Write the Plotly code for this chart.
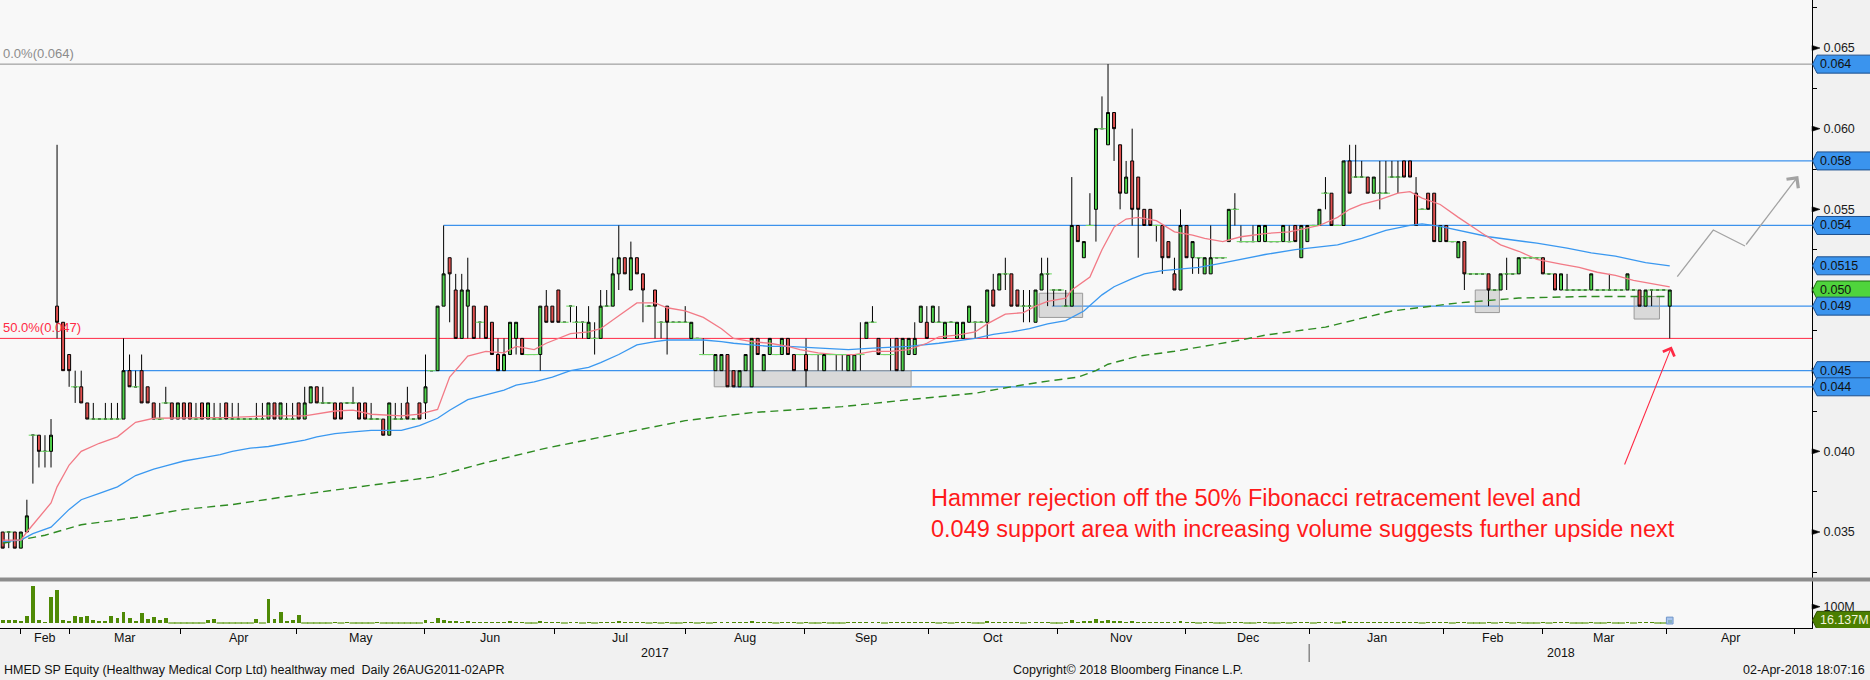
import plotly.graph_objects as go

# ---------------- data ----------------
# one daily bar per trading day, index 0 = late Jan 2017, index 276 = 02 Apr 2018
bar_idx = list(range(277))

open_ = [
    0.035, 0.035, 0.035, 0.034, 0.035, 0.041, 0.041, 0.040, 0.040, 0.049,
    0.048, 0.046, 0.044, 0.044, 0.043, 0.042, 0.042, 0.042, 0.042, 0.042,
    0.042, 0.045, 0.044, 0.045, 0.044, 0.043, 0.042, 0.043, 0.043, 0.042,
    0.043, 0.043, 0.042, 0.043, 0.042, 0.042, 0.042, 0.043, 0.042, 0.042,
    0.042, 0.042, 0.042, 0.042, 0.042, 0.043, 0.042, 0.042, 0.042, 0.043,
    0.042, 0.043, 0.044, 0.043, 0.043, 0.043, 0.043, 0.043, 0.043, 0.043,
    0.043, 0.042, 0.042, 0.042, 0.041, 0.042, 0.042, 0.043, 0.042, 0.043,
    0.043, 0.045, 0.045, 0.049, 0.052, 0.050, 0.047, 0.049, 0.049, 0.048,
    0.049, 0.048, 0.046, 0.045, 0.046, 0.047, 0.047, 0.046, 0.046, 0.046,
    0.049, 0.049, 0.050, 0.048, 0.049, 0.048, 0.048, 0.047, 0.047, 0.047,
    0.049, 0.049, 0.051, 0.052, 0.050, 0.052, 0.051, 0.049, 0.050, 0.048,
    0.049, 0.048, 0.048, 0.048, 0.047, 0.047, 0.046, 0.046, 0.045, 0.045,
    0.046, 0.045, 0.044, 0.045, 0.044, 0.047, 0.045, 0.046, 0.046, 0.046,
    0.047, 0.046, 0.046, 0.046, 0.046, 0.046, 0.045, 0.046, 0.046, 0.046,
    0.045, 0.045, 0.046, 0.047, 0.048, 0.047, 0.046, 0.046, 0.047, 0.045,
    0.046, 0.046, 0.048, 0.048, 0.048, 0.048, 0.047, 0.048, 0.047, 0.047,
    0.048, 0.048, 0.048, 0.048, 0.050, 0.050, 0.051, 0.051, 0.050, 0.049,
    0.049, 0.048, 0.050, 0.051, 0.050, 0.050, 0.049, 0.049, 0.054, 0.052,
    0.054, 0.055, 0.060, 0.059, 0.061, 0.059, 0.056, 0.058, 0.057, 0.055,
    0.055, 0.054, 0.054, 0.053, 0.051, 0.050, 0.054, 0.052, 0.052, 0.051,
    0.051, 0.052, 0.052, 0.053, 0.055, 0.053, 0.053, 0.053, 0.053, 0.053,
    0.053, 0.053, 0.053, 0.053, 0.054, 0.052, 0.053, 0.054, 0.054, 0.056,
    0.056, 0.054, 0.054, 0.058, 0.057, 0.057, 0.057, 0.056, 0.056, 0.056,
    0.057, 0.057, 0.058, 0.058, 0.056, 0.055, 0.056, 0.056, 0.053, 0.054,
    0.053, 0.052, 0.053, 0.051, 0.051, 0.051, 0.051, 0.050, 0.050, 0.051,
    0.051, 0.051, 0.052, 0.052, 0.052, 0.052, 0.051, 0.051, 0.050, 0.050,
    0.050, 0.050, 0.050, 0.050, 0.050, 0.050, 0.050, 0.050, 0.050, 0.050,
    0.050, 0.050, 0.049, 0.050, 0.050, 0.050, 0.049,
]
high = [
    0.035, 0.035, 0.035, 0.035, 0.037, 0.041, 0.041, 0.041, 0.042, 0.059,
    0.048, 0.046, 0.045, 0.045, 0.043, 0.043, 0.042, 0.043, 0.043, 0.043,
    0.047, 0.046, 0.045, 0.046, 0.044, 0.043, 0.043, 0.044, 0.043, 0.043,
    0.043, 0.043, 0.043, 0.043, 0.043, 0.043, 0.043, 0.043, 0.043, 0.043,
    0.042, 0.042, 0.043, 0.043, 0.043, 0.043, 0.043, 0.043, 0.043, 0.043,
    0.044, 0.044, 0.044, 0.044, 0.043, 0.043, 0.043, 0.043, 0.044, 0.043,
    0.043, 0.043, 0.042, 0.042, 0.043, 0.043, 0.043, 0.044, 0.042, 0.043,
    0.046, 0.045, 0.049, 0.054, 0.052, 0.051, 0.051, 0.052, 0.049, 0.048,
    0.049, 0.048, 0.047, 0.047, 0.048, 0.048, 0.047, 0.046, 0.046, 0.049,
    0.050, 0.049, 0.050, 0.048, 0.049, 0.049, 0.048, 0.049, 0.048, 0.050,
    0.050, 0.052, 0.054, 0.052, 0.053, 0.052, 0.051, 0.049, 0.050, 0.048,
    0.049, 0.048, 0.048, 0.049, 0.048, 0.047, 0.047, 0.046, 0.046, 0.046,
    0.046, 0.045, 0.045, 0.046, 0.047, 0.047, 0.046, 0.047, 0.046, 0.047,
    0.047, 0.046, 0.046, 0.047, 0.046, 0.046, 0.046, 0.046, 0.046, 0.046,
    0.046, 0.046, 0.048, 0.048, 0.049, 0.047, 0.046, 0.047, 0.047, 0.047,
    0.047, 0.048, 0.049, 0.049, 0.049, 0.049, 0.048, 0.048, 0.048, 0.048,
    0.049, 0.048, 0.048, 0.050, 0.051, 0.051, 0.052, 0.051, 0.050, 0.050,
    0.050, 0.050, 0.052, 0.052, 0.050, 0.050, 0.050, 0.057, 0.054, 0.053,
    0.056, 0.060, 0.062, 0.064, 0.061, 0.059, 0.058, 0.060, 0.057, 0.055,
    0.055, 0.054, 0.054, 0.053, 0.052, 0.055, 0.054, 0.053, 0.052, 0.052,
    0.054, 0.052, 0.052, 0.055, 0.056, 0.054, 0.053, 0.054, 0.054, 0.054,
    0.053, 0.053, 0.054, 0.054, 0.054, 0.054, 0.054, 0.054, 0.055, 0.057,
    0.056, 0.054, 0.058, 0.059, 0.059, 0.058, 0.057, 0.057, 0.058, 0.058,
    0.058, 0.058, 0.058, 0.058, 0.057, 0.055, 0.056, 0.056, 0.054, 0.054,
    0.053, 0.053, 0.053, 0.051, 0.051, 0.051, 0.051, 0.050, 0.051, 0.052,
    0.051, 0.052, 0.052, 0.052, 0.052, 0.052, 0.051, 0.051, 0.051, 0.051,
    0.050, 0.050, 0.050, 0.051, 0.050, 0.050, 0.051, 0.050, 0.050, 0.051,
    0.050, 0.050, 0.050, 0.050, 0.050, 0.050, 0.050,
]
low = [
    0.034, 0.034, 0.034, 0.034, 0.035, 0.038, 0.039, 0.039, 0.039, 0.047,
    0.045, 0.044, 0.043, 0.043, 0.042, 0.042, 0.042, 0.042, 0.042, 0.042,
    0.042, 0.044, 0.044, 0.043, 0.043, 0.042, 0.042, 0.043, 0.042, 0.042,
    0.042, 0.042, 0.042, 0.042, 0.042, 0.042, 0.042, 0.042, 0.042, 0.042,
    0.042, 0.042, 0.042, 0.042, 0.042, 0.042, 0.042, 0.042, 0.042, 0.042,
    0.042, 0.043, 0.043, 0.043, 0.043, 0.042, 0.042, 0.043, 0.043, 0.042,
    0.042, 0.042, 0.042, 0.041, 0.041, 0.042, 0.042, 0.042, 0.042, 0.042,
    0.042, 0.045, 0.045, 0.049, 0.048, 0.047, 0.047, 0.047, 0.047, 0.047,
    0.047, 0.046, 0.045, 0.045, 0.046, 0.046, 0.046, 0.046, 0.046, 0.045,
    0.048, 0.048, 0.048, 0.048, 0.048, 0.047, 0.047, 0.047, 0.046, 0.047,
    0.049, 0.049, 0.050, 0.051, 0.050, 0.051, 0.048, 0.049, 0.047, 0.047,
    0.046, 0.048, 0.048, 0.048, 0.047, 0.047, 0.046, 0.046, 0.045, 0.045,
    0.044, 0.044, 0.044, 0.045, 0.044, 0.046, 0.045, 0.046, 0.046, 0.046,
    0.046, 0.045, 0.046, 0.044, 0.046, 0.045, 0.045, 0.046, 0.045, 0.045,
    0.045, 0.045, 0.045, 0.047, 0.048, 0.046, 0.046, 0.045, 0.045, 0.045,
    0.046, 0.046, 0.048, 0.047, 0.048, 0.048, 0.047, 0.048, 0.047, 0.047,
    0.048, 0.047, 0.048, 0.047, 0.049, 0.050, 0.050, 0.049, 0.049, 0.048,
    0.048, 0.048, 0.050, 0.049, 0.049, 0.050, 0.049, 0.049, 0.053, 0.052,
    0.054, 0.053, 0.060, 0.059, 0.058, 0.055, 0.056, 0.054, 0.052, 0.054,
    0.054, 0.053, 0.051, 0.052, 0.050, 0.050, 0.052, 0.051, 0.051, 0.051,
    0.051, 0.052, 0.052, 0.053, 0.054, 0.053, 0.053, 0.053, 0.053, 0.053,
    0.053, 0.053, 0.053, 0.053, 0.053, 0.052, 0.053, 0.054, 0.054, 0.055,
    0.054, 0.054, 0.054, 0.056, 0.057, 0.057, 0.056, 0.056, 0.055, 0.056,
    0.057, 0.056, 0.057, 0.057, 0.054, 0.055, 0.055, 0.053, 0.053, 0.053,
    0.053, 0.052, 0.050, 0.051, 0.051, 0.051, 0.049, 0.050, 0.050, 0.050,
    0.051, 0.051, 0.052, 0.052, 0.052, 0.051, 0.051, 0.050, 0.050, 0.050,
    0.050, 0.050, 0.050, 0.050, 0.050, 0.050, 0.050, 0.050, 0.050, 0.050,
    0.050, 0.049, 0.049, 0.049, 0.050, 0.050, 0.047,
]
close = [
    0.034, 0.035, 0.034, 0.035, 0.036, 0.041, 0.040, 0.040, 0.041, 0.048,
    0.045, 0.045, 0.044, 0.043, 0.042, 0.042, 0.042, 0.042, 0.042, 0.042,
    0.045, 0.044, 0.044, 0.043, 0.043, 0.042, 0.042, 0.043, 0.042, 0.043,
    0.042, 0.042, 0.042, 0.042, 0.043, 0.042, 0.042, 0.042, 0.042, 0.042,
    0.042, 0.042, 0.042, 0.042, 0.043, 0.042, 0.043, 0.042, 0.042, 0.042,
    0.043, 0.044, 0.043, 0.043, 0.043, 0.042, 0.042, 0.043, 0.043, 0.042,
    0.042, 0.042, 0.042, 0.041, 0.043, 0.042, 0.042, 0.042, 0.042, 0.042,
    0.044, 0.045, 0.049, 0.051, 0.051, 0.047, 0.050, 0.050, 0.047, 0.048,
    0.047, 0.046, 0.045, 0.046, 0.048, 0.048, 0.046, 0.046, 0.046, 0.049,
    0.048, 0.048, 0.048, 0.048, 0.049, 0.048, 0.048, 0.048, 0.047, 0.049,
    0.049, 0.051, 0.052, 0.051, 0.052, 0.051, 0.050, 0.049, 0.049, 0.048,
    0.048, 0.048, 0.048, 0.048, 0.048, 0.047, 0.046, 0.046, 0.046, 0.046,
    0.044, 0.044, 0.045, 0.046, 0.047, 0.046, 0.046, 0.047, 0.046, 0.047,
    0.046, 0.045, 0.046, 0.045, 0.046, 0.046, 0.046, 0.046, 0.046, 0.046,
    0.046, 0.046, 0.046, 0.048, 0.048, 0.046, 0.046, 0.046, 0.045, 0.047,
    0.047, 0.047, 0.049, 0.047, 0.049, 0.048, 0.048, 0.048, 0.048, 0.048,
    0.049, 0.048, 0.048, 0.050, 0.049, 0.051, 0.051, 0.049, 0.049, 0.049,
    0.049, 0.050, 0.051, 0.051, 0.050, 0.050, 0.049, 0.054, 0.053, 0.053,
    0.054, 0.060, 0.060, 0.061, 0.060, 0.056, 0.057, 0.055, 0.055, 0.054,
    0.054, 0.054, 0.052, 0.052, 0.050, 0.054, 0.052, 0.053, 0.052, 0.052,
    0.052, 0.052, 0.052, 0.055, 0.055, 0.053, 0.053, 0.053, 0.054, 0.054,
    0.053, 0.053, 0.054, 0.053, 0.053, 0.054, 0.054, 0.054, 0.055, 0.056,
    0.054, 0.054, 0.058, 0.056, 0.057, 0.057, 0.056, 0.057, 0.056, 0.056,
    0.057, 0.057, 0.057, 0.057, 0.054, 0.055, 0.055, 0.053, 0.054, 0.053,
    0.053, 0.053, 0.051, 0.051, 0.051, 0.051, 0.050, 0.050, 0.051, 0.051,
    0.051, 0.052, 0.052, 0.052, 0.052, 0.051, 0.051, 0.050, 0.051, 0.050,
    0.050, 0.050, 0.050, 0.051, 0.050, 0.050, 0.050, 0.050, 0.050, 0.051,
    0.050, 0.049, 0.050, 0.050, 0.050, 0.050, 0.050,
]
# daily volume, millions of shares
volume_m = [
    16, 16, 16, 10, 41, 225, 16, 8, 160, 205,
    16, 12, 41, 37, 41, 16, 10, 10, 41, 30,
    65, 30, 12, 60, 25, 35, 16, 30, 0, 0,
    0, 0, 0, 0, 16, 25, 0, 0, 0, 0,
    0, 0, 25, 0, 150, 25, 65, 12, 16, 47,
    0, 0, 0, 0, 0, 8, 0, 8, 0, 0,
    0, 0, 8, 0, 0, 0, 0, 0, 0, 0,
    16, 8, 30, 20, 15, 10, 8, 10, 8, 5,
    8, 5, 5, 8, 10, 8, 5, 0, 0, 12,
    8, 5, 5, 0, 5, 5, 0, 5, 0, 8,
    5, 8, 10, 5, 8, 5, 5, 0, 5, 0,
    5, 0, 0, 5, 5, 0, 5, 0, 5, 5,
    8, 8, 5, 8, 10, 5, 5, 5, 0, 5,
    5, 5, 0, 8, 0, 0, 5, 0, 0, 0,
    5, 5, 5, 8, 5, 5, 0, 5, 5, 5,
    5, 5, 8, 5, 5, 0, 5, 0, 5, 5,
    8, 0, 0, 10, 8, 8, 5, 5, 5, 0,
    5, 8, 5, 5, 0, 0, 5, 20, 8, 10,
    10, 25, 15, 20, 15, 12, 8, 10, 8, 5,
    5, 5, 8, 5, 8, 10, 5, 5, 0, 5,
    5, 0, 0, 8, 5, 5, 0, 0, 5, 5,
    0, 0, 5, 0, 5, 5, 5, 0, 5, 5,
    5, 0, 10, 8, 5, 5, 5, 5, 5, 5,
    5, 5, 5, 5, 5, 0, 5, 8, 5, 5,
    0, 5, 5, 0, 0, 0, 5, 0, 5, 5,
    0, 5, 0, 0, 0, 5, 0, 5, 5, 5,
    0, 0, 0, 5, 0, 0, 5, 0, 0, 5,
    0, 5, 5, 5, 0, 0, 16,
]

# moving averages: (bar index, value)
ma_fast_idx = [0, 3, 4, 6, 8, 9, 11, 13, 16, 19, 22, 25, 33, 38, 44, 50, 55, 58, 61, 66,
               69, 72, 74, 77, 80, 83, 85, 88, 90, 94, 97, 99, 102, 105, 108, 110, 113, 116, 119, 121,
               124, 127, 130, 132, 135, 138, 141, 144, 147, 150, 153, 155, 158, 161, 163, 166, 169, 171, 173, 176,
               177, 180, 182, 184, 186, 188, 191, 194, 197, 199, 202, 205, 209, 213, 218, 221, 223, 225, 228, 231,
               233, 235, 238, 241, 245, 248, 251, 254, 258, 261, 264, 267, 270, 276]
ma_fast = [0.0345, 0.0345, 0.0350, 0.0359, 0.0368, 0.0378, 0.03915, 0.0400, 0.0405, 0.0409,
           0.0418, 0.04205, 0.0421, 0.0421, 0.0422, 0.0422, 0.0425, 0.04255, 0.0423, 0.0422,
           0.0423, 0.0426, 0.0446, 0.0459, 0.0462, 0.0461, 0.0465, 0.0463, 0.0467, 0.0473,
           0.0474, 0.0476, 0.0484, 0.0492, 0.0492, 0.0489, 0.0487, 0.0483, 0.0476, 0.0470,
           0.0468, 0.0467, 0.0465, 0.0463, 0.0461, 0.0460, 0.0460, 0.0462, 0.0462, 0.0463,
           0.0467, 0.0471, 0.0472, 0.0474, 0.0479, 0.0485, 0.0486, 0.0490, 0.0493, 0.0495,
           0.0500, 0.0508, 0.0525, 0.0539, 0.0544, 0.0545, 0.0543, 0.0536, 0.0534, 0.0532,
           0.0530, 0.0533, 0.0535, 0.0536, 0.0540, 0.0545, 0.0550, 0.0553, 0.0556, 0.0560,
           0.0561, 0.0557, 0.0553, 0.0545, 0.0535, 0.0528, 0.0524, 0.0519, 0.0516, 0.0514,
           0.0511, 0.0509, 0.0506, 0.0502]
ma_mid_idx = [0, 3, 5, 8, 11, 13, 16, 19, 22, 25, 27, 30, 33, 36, 38, 41, 44, 47, 50, 52,
              55, 58, 61, 66, 69, 72, 74, 77, 80, 83, 85, 88, 91, 94, 97, 99, 102, 105, 108, 110,
              113, 116, 119, 121, 124, 127, 130, 135, 140, 144, 150, 155, 161, 164, 167, 170, 173, 176, 179, 182,
              184, 187, 189, 192, 195, 198, 201, 205, 209, 214, 221, 225, 229, 233, 235, 238, 241, 246, 250, 254,
              259, 263, 267, 272, 276]
ma_mid = [0.0344, 0.0345, 0.0349, 0.0353, 0.0364, 0.0370, 0.0374, 0.0378, 0.0385, 0.0389,
          0.0391, 0.0394, 0.0396, 0.0398, 0.0400, 0.0402, 0.0403, 0.0405, 0.0407, 0.0409,
          0.0411, 0.0412, 0.0413, 0.0413, 0.0416, 0.04205, 0.04255, 0.0432, 0.0435, 0.0438,
          0.0441, 0.0443, 0.0446, 0.0450, 0.0452, 0.0455, 0.0460, 0.0466, 0.0468, 0.0469,
          0.0469, 0.0469, 0.0468, 0.0467, 0.0466, 0.0465, 0.0465, 0.0464, 0.0463, 0.0464,
          0.0465, 0.0467, 0.0470, 0.04725, 0.0474, 0.0476, 0.0479, 0.0481, 0.0487, 0.0497,
          0.0502, 0.0507, 0.0510, 0.0512, 0.0513, 0.0514, 0.0516, 0.0519, 0.0522, 0.0525,
          0.0528, 0.0532, 0.0537, 0.0540, 0.0541, 0.05395, 0.0537, 0.0533, 0.0531, 0.0529,
          0.0526, 0.0523, 0.0521, 0.0517, 0.0515]
ma_slow_idx = [0, 3, 7, 13, 22, 30, 38, 47, 55, 63, 71, 80, 90, 98, 106, 113, 124, 139, 150, 161,
               167, 172, 178, 181, 183, 188, 194, 199, 205, 209, 219, 230, 241, 251, 262, 276]
ma_slow = [0.0343, 0.0345, 0.0348, 0.03545, 0.0359, 0.0364, 0.0367, 0.0372, 0.0376, 0.0380,
           0.0384, 0.0393, 0.0402, 0.0408, 0.0414, 0.0419, 0.0424, 0.04277, 0.0432, 0.0436,
           0.0440, 0.0443, 0.0446, 0.0450, 0.0454, 0.0459, 0.0462, 0.0465, 0.0469, 0.0472,
           0.0477, 0.0487, 0.0492, 0.0495, 0.0496, 0.0496]

# month boundaries on the bar-index axis, and month names between them
month_tick_idx = [3.0, 11.1, 29.5, 48.7, 69.9, 91.4, 113.1, 132.8, 153.2, 174.7, 195.9,
                  216.3, 238.6, 254.9, 275.4, 296.7]
month_names = ["Feb", "Mar", "Apr", "May", "Jun", "Jul", "Aug", "Sep", "Oct", "Nov", "Dec",
               "Jan", "Feb", "Mar", "Apr"]
year_names = ["2017", "2018"]

# Fibonacci retracement levels
fib_levels = [0.064, 0.047]
fib_labels = ["0.0%(0.064)", "50.0%(0.047)"]
fib_colors = ["#8c8c8c", "#ff2a45"]

# support / resistance lines (price, first bar)
sr_levels = [0.058, 0.054, 0.049, 0.045, 0.044]
sr_start_idx = [222, 73, 173.7, 20.2, 120.9]

# shaded zones (bar range, price range)
zone_x0 = [117.8, 171.6, 243.8, 270.1]
zone_x1 = [150.4, 178.8, 247.8, 274.3]
zone_lo = [0.0440, 0.0483, 0.0486, 0.0482]
zone_hi = [0.0450, 0.0498, 0.0500, 0.0496]

# right-axis value tags
tag_values = [0.064, 0.058, 0.054, 0.0515, 0.050, 0.049, 0.045, 0.044]
tag_texts = ["0.064", "0.058", "0.054", "0.0515", "0.050", "0.049", "0.045", "0.044"]
tag_kind = ["line", "line", "line", "ma", "last", "line", "line", "line"]
last_volume = 16.137

price_ticks = [0.035, 0.040, 0.045, 0.050, 0.055, 0.060, 0.065]
volume_ticks = [100]

note_lines = ["Hammer rejection off the 50% Fibonacci retracement level and",
              "0.049 support area with increasing volume suggests further upside next"]

# ---------------- geometry (pixels of the 1870x680 page) ----------------
FIG_W, FIG_H = 1870, 680
PW, PH = 1812, 628          # plot area (left/top at 0)
SPLIT = 579                 # price / volume boundary
PRICE_PX = 484 / 0.030      # px per price unit
P_REF, P_REF_PX = 0.065, 48
VOL_PX = 16.3 / 100         # px per million shares
VOL_ZERO_PX = 623
BAR_PX, BAR0_PX = 6.04, 2.7


def price_at(px):
    return P_REF - (px - P_REF_PX) / PRICE_PX


def xp(px):      # page px -> paper x
    return px / PW


def yp(px):      # page px -> paper y
    return (PH - px) / PH


X0 = -BAR0_PX / BAR_PX
X1 = (PW - BAR0_PX) / BAR_PX
p_top, p_bot = price_at(0), price_at(SPLIT)
v_top = (VOL_ZERO_PX - SPLIT) / VOL_PX
v_bot = (VOL_ZERO_PX - PH) / VOL_PX
PU = 1 / PRICE_PX            # price units per px
VU = 1 / VOL_PX

FONT = "Liberation Sans, Arial, sans-serif"
GREEN_BODY = "#4fd14a"
RED_BODY = "#e0504f"
FLAT_GREEN = "#74d86a"
BLUE = "#3c92ec"

fig = go.Figure()

# moving averages
fig.add_trace(go.Scatter(x=ma_slow_idx, y=ma_slow, mode="lines", yaxis="y",
                         line=dict(color="#2e8b22", width=1.4, dash="8px,5px"),
                         hoverinfo="skip", showlegend=False))
fig.add_trace(go.Scatter(x=ma_mid_idx, y=ma_mid, mode="lines", yaxis="y",
                         line=dict(color="#3a98f0", width=1.3),
                         hoverinfo="skip", showlegend=False))
fig.add_trace(go.Scatter(x=ma_fast_idx, y=ma_fast, mode="lines", yaxis="y",
                         line=dict(color="#f27a86", width=1.3),
                         hoverinfo="skip", showlegend=False))

# candles
fig.add_trace(go.Candlestick(
    x=bar_idx, open=open_, high=high, low=low, close=close, yaxis="y",
    increasing=dict(line=dict(color="black", width=1), fillcolor=GREEN_BODY),
    decreasing=dict(line=dict(color="black", width=1), fillcolor=RED_BODY),
    whiskerwidth=0, hoverinfo="skip", showlegend=False))

# unchanged-price days drawn as green dashes
flat_x = [i for i in bar_idx if open_[i] == close[i]]
flat_y = [close[i] for i in flat_x]
fig.add_trace(go.Scatter(x=flat_x, y=flat_y, mode="markers", yaxis="y",
                         marker=dict(symbol="line-ew", size=6,
                                     line=dict(color=FLAT_GREEN, width=1.1)),
                         hoverinfo="skip", showlegend=False))

# volume
fig.add_trace(go.Bar(x=bar_idx, y=volume_m, yaxis="y2", width=0.65,
                     marker=dict(color="#4f8a06", line=dict(width=0)),
                     hoverinfo="skip", showlegend=False))
zero_x = [i for i in bar_idx if volume_m[i] == 0]
fig.add_trace(go.Scatter(x=zero_x, y=[0] * len(zero_x), mode="markers", yaxis="y2",
                         marker=dict(symbol="line-ew", size=5,
                                     line=dict(color="#5a9a10", width=1.2)),
                         hoverinfo="skip", showlegend=False))

shapes = []
annotations = []

# fib lines + labels
for lv, lab, col in zip(fib_levels, fib_labels, fib_colors):
    shapes.append(dict(type="line", xref="x", yref="y", x0=X0, x1=X1, y0=lv, y1=lv,
                       line=dict(color=col, width=1), layer="below"))
    annotations.append(dict(x=xp(1), y=lv + 1.5 * PU, xref="paper", yref="y", text=lab,
                            showarrow=False, xanchor="left", yanchor="bottom",
                            font=dict(family=FONT, size=13, color=col)))

# support / resistance
for lv, st in zip(sr_levels, sr_start_idx):
    shapes.append(dict(type="line", xref="x", yref="y", x0=st, x1=X1, y0=lv, y1=lv,
                       line=dict(color=BLUE, width=1.2), layer="below"))

# zones
for a, b, lo, hi in zip(zone_x0, zone_x1, zone_lo, zone_hi):
    shapes.append(dict(type="rect", xref="x", yref="y", x0=a, x1=b, y0=lo, y1=hi,
                       fillcolor="rgba(165,165,165,0.38)",
                       line=dict(color="#9a9a9a", width=1), layer="below"))

# separator between panels
shapes.append(dict(type="rect", xref="paper", yref="paper", x0=0, x1=xp(FIG_W),
                   y0=yp(581.5), y1=yp(577.5), fillcolor="#8d8d8d", line=dict(width=0)))

# tick triangles
for v in price_ticks:
    shapes.append(dict(type="path", xref="paper", yref="y",
                       path=f"M 1,{v + 2.6 * PU} L {xp(PW + 8)},{v} L 1,{v - 2.6 * PU} Z",
                       fillcolor="black", line=dict(color="black", width=0.5)))
for v in volume_ticks:
    shapes.append(dict(type="path", xref="paper", yref="y2",
                       path=f"M 1,{v + 2.6 * VU} L {xp(PW + 8)},{v} L 1,{v - 2.6 * VU} Z",
                       fillcolor="black", line=dict(color="black", width=0.5)))


def tag(val, yref, unit, text, fill, border, txt):
    h = 9 * unit
    xl, xr = xp(PW + 5), xp(FIG_W + 3)
    shapes.append(dict(type="path", xref="paper", yref=yref,
                       path=(f"M {xp(PW + 0.5)},{val} L {xl},{val + h} L {xr},{val + h} "
                             f"L {xr},{val - h} L {xl},{val - h} Z"),
                       fillcolor=fill, line=dict(color=border, width=1)))
    annotations.append(dict(x=xp(PW + 6), y=val, xref="paper", yref=yref, text=text,
                            showarrow=False, xanchor="left", yanchor="middle",
                            font=dict(family=FONT, size=12.5, color=txt)))


order = sorted(range(len(tag_values)), key=lambda k: 0 if tag_kind[k] == "last" else 1)
for k in order:
    if tag_kind[k] == "last":
        tag(tag_values[k], "y", PU, tag_texts[k], "#4fd43c", "#1f6a12", "#111111")
    else:
        tag(tag_values[k], "y", PU, tag_texts[k], "#3a94ee", "#1d4f8c", "#111111")
tag(last_volume, "y2", VU, f"{last_volume:.3f}M", "#4b7f00", "#2f5200", "#f4f4dc")

# last-bar volume highlight
shapes.append(dict(type="rect", xref="x", yref="y2", x0=bar_idx[-1] - 0.55, x1=bar_idx[-1] + 0.55,
                   y0=-6, y1=volume_m[-1] + 20, fillcolor="rgba(150,185,235,0.8)",
                   line=dict(color="#6f95c8", width=1)))

# month / year labels
for k, name in enumerate(month_names):
    mid = (month_tick_idx[k] + month_tick_idx[k + 1]) / 2
    annotations.append(dict(x=mid, y=yp(638), xref="x", yref="paper", text=name,
                            showarrow=False, xanchor="center", yanchor="middle",
                            font=dict(family=FONT, size=12.5, color="#111111")))
year_bounds = [X0, month_tick_idx[11], X1]
for k, name in enumerate(year_names):
    mid = (year_bounds[k] + year_bounds[k + 1]) / 2
    annotations.append(dict(x=mid, y=yp(653), xref="x", yref="paper", text=name,
                            showarrow=False, xanchor="center", yanchor="middle",
                            font=dict(family=FONT, size=12.5, color="#111111")))
shapes.append(dict(type="line", xref="x", yref="paper", x0=month_tick_idx[11], x1=month_tick_idx[11],
                   y0=yp(644), y1=yp(662), line=dict(color="#555555", width=1)))

# footer
annotations.append(dict(x=xp(2), y=yp(669.5), xref="paper", yref="paper",
                        text="HMED SP Equity (Healthway Medical Corp Ltd) healthway med  Daily 26AUG2011-02APR",
                        showarrow=False, xanchor="left", yanchor="middle",
                        font=dict(family=FONT, size=12.5, color="#111111")))
annotations.append(dict(x=xp(1128), y=yp(669.5), xref="paper", yref="paper",
                        text="Copyright\u00a9 2018 Bloomberg Finance L.P.",
                        showarrow=False, xanchor="center", yanchor="middle",
                        font=dict(family=FONT, size=12.5, color="#111111")))
annotations.append(dict(x=xp(1867), y=yp(669.5), xref="paper", yref="paper",
                        text="02-Apr-2018 18:07:16",
                        showarrow=False, xanchor="right", yanchor="middle",
                        font=dict(family=FONT, size=12.5, color="#111111")))

# commentary
annotations.append(dict(x=xp(929), y=yp(513), xref="paper", yref="paper",
                        text="<br>".join(note_lines), align="left",
                        showarrow=False, xanchor="left", yanchor="middle",
                        font=dict(family=FONT, size=23.5, color="#ff1a1a")))
# red arrow to hammer low
annotations.append(dict(x=(1671.7 - BAR0_PX) / BAR_PX, y=price_at(346.5), xref="x", yref="y",
                        ax=(1624 - BAR0_PX) / BAR_PX, ay=price_at(466), axref="x", ayref="y",
                        showarrow=True, arrowhead=4, arrowsize=2.2, arrowwidth=1.1,
                        arrowcolor="#ff2a45", text=""))
# grey projected path
gx = [(p - BAR0_PX) / BAR_PX for p in (1677.3, 1713.3, 1745.0)]
gy = [price_at(p) for p in (276.7, 230.0, 246.0)]
fig.add_trace(go.Scatter(x=gx, y=gy, mode="lines", yaxis="y",
                         line=dict(color="#a3a3a3", width=1.3),
                         hoverinfo="skip", showlegend=False))
annotations.append(dict(x=(1798.3 - BAR0_PX) / BAR_PX, y=price_at(176), xref="x", yref="y",
                        ax=gx[-1], ay=gy[-1], axref="x", ayref="y",
                        showarrow=True, arrowhead=4, arrowsize=2.2, arrowwidth=1.3,
                        arrowcolor="#a3a3a3", text=""))

fig.update_layout(
    width=FIG_W, height=FIG_H,
    margin=dict(l=0, r=FIG_W - PW, t=0, b=FIG_H - PH, pad=0),
    paper_bgcolor="#f1f1f1", plot_bgcolor="#f8f8f8",
    showlegend=False, boxgap=0.3, bargap=0,
    xaxis=dict(range=[X0, X1], anchor="y2", showgrid=False, zeroline=False,
               showline=True, linecolor="black", linewidth=1,
               tickmode="array", tickvals=month_tick_idx, ticktext=[""] * len(month_tick_idx),
               ticks="outside", ticklen=5, tickcolor="black",
               rangeslider=dict(visible=False), fixedrange=True),
    yaxis=dict(domain=[yp(SPLIT), 1], range=[p_bot, p_top], side="right", anchor="x",
               showgrid=False, zeroline=False, showline=True, linecolor="black", linewidth=1,
               tickmode="array", tickvals=price_ticks, ticktext=[f"{v:.3f}" for v in price_ticks],
               ticks="outside", ticklen=4, tickcolor="black", ticklabelstandoff=4,
               tickfont=dict(family=FONT, size=12.5, color="#1a1a1a"),
               minor=dict(dtick=0.0025, tick0=0.035, ticks="outside", ticklen=4,
                          tickcolor="black", showgrid=False)),
    yaxis2=dict(domain=[0, yp(SPLIT)], range=[v_bot, v_top], side="right", anchor="x",
                showgrid=False, zeroline=False, showline=True, linecolor="black", linewidth=1,
                tickmode="array", tickvals=volume_ticks, ticktext=["100M"],
                ticks="outside", ticklen=4, tickcolor="black", ticklabelstandoff=4,
                tickfont=dict(family=FONT, size=12.5, color="#1a1a1a")),
    shapes=shapes, annotations=annotations,
)

fig.write_html("out.html",
               config={"displayModeBar": False, "staticPlot": True},
               post_script="document.body.style.margin='0';document.body.style.padding='0';"
                           "document.documentElement.style.overflow='hidden';")
